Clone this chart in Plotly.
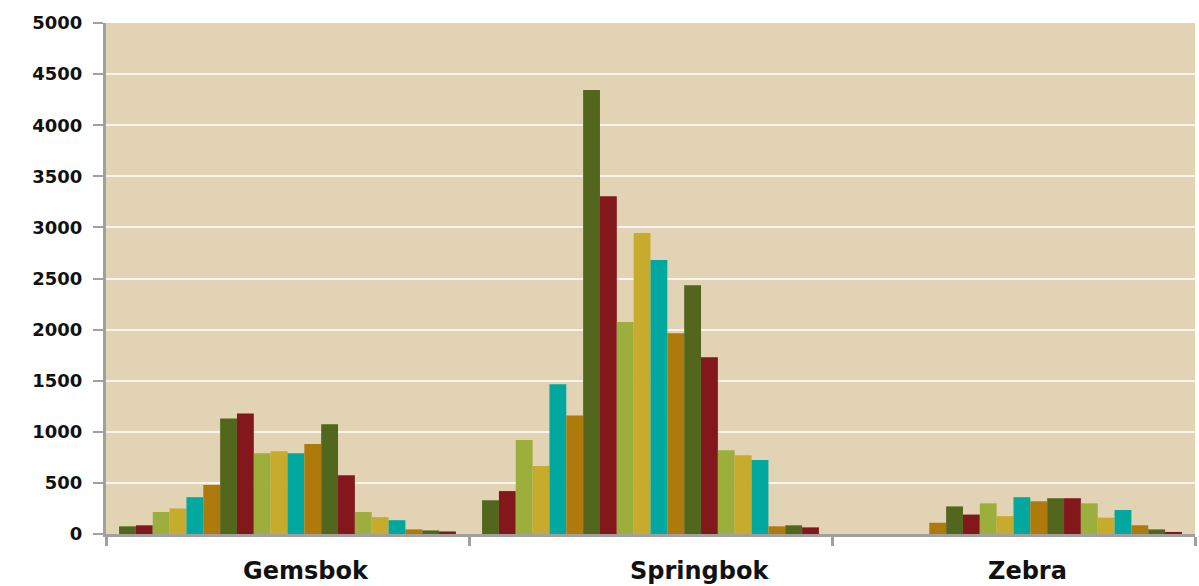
import plotly.graph_objects as go

# Species on the category axis
species = ["Gemsbok", "Springbok", "Zebra"]

# Counts per survey (20 surveys per species, in survey order)
gemsbok = [75, 85, 215, 250, 360, 480, 1130, 1180, 790, 810,
           790, 880, 1075, 575, 215, 165, 135, 45, 35, 25]
springbok = [330, 420, 920, 665, 1465, 1160, 4345, 3305, 2075, 2945,
             2680, 1965, 2435, 1730, 820, 770, 725, 75, 85, 65]
zebra = [0, 0, 0, 0, 0, 110, 270, 190, 300, 175,
         360, 320, 350, 350, 300, 160, 235, 85, 45, 20]

survey_names = [f"Survey {i + 1}" for i in range(20)]

# Six-colour palette repeated across the surveys
palette = ["#52661E", "#82181C", "#9CAF3C", "#C6AB2C", "#00A89F", "#AD7A0B"]

y_ticks = [0, 500, 1000, 1500, 2000, 2500, 3000, 3500, 4000, 4500, 5000]

# Horizontal nudge (px) of each species label under its group
label_nudge = [18, 49, 14]

fig = go.Figure()
for i, name in enumerate(survey_names):
    fig.add_trace(go.Bar(
        x=species,
        y=[gemsbok[i], springbok[i], zebra[i]],
        name=name,
        marker=dict(color=palette[i % len(palette)], line=dict(width=0)),
    ))

axis_grey = "#A0A0A0"
label_font = dict(family="DejaVu Sans", color="#111111", weight="bold")

# Species names written below the axis
for name, nudge in zip(species, label_nudge):
    fig.add_annotation(
        x=name, xref="x",
        y=0, yref="paper",
        yanchor="middle",
        yshift=-37,
        xshift=nudge,
        text=name,
        showarrow=False,
        font=dict(size=24, **label_font),
    )

fig.update_layout(
    width=1199,
    height=586,
    barmode="group",
    bargap=0.072,
    bargroupgap=0,
    showlegend=False,
    paper_bgcolor="white",
    plot_bgcolor="#E2D3B4",
    margin=dict(l=106, r=4, t=23, b=52),
    xaxis=dict(
        type="category",
        tickson="boundaries",
        ticks="outside",
        ticklen=9,
        tickwidth=3,
        tickcolor=axis_grey,
        showgrid=False,
        showline=True,
        linecolor=axis_grey,
        linewidth=3,
        showticklabels=False,
    ),
    yaxis=dict(
        range=[0, 5000],
        tickvals=y_ticks,
        ticks="outside",
        ticklen=10,
        tickwidth=2,
        tickcolor=axis_grey,
        showline=True,
        linecolor=axis_grey,
        linewidth=3,
        showgrid=True,
        gridcolor="#FAF6EE",
        gridwidth=2,
        zeroline=False,
        tickfont=dict(size=18, **label_font),
        ticklabelstandoff=7,
    ),
)

fig.write_html("out.html")
